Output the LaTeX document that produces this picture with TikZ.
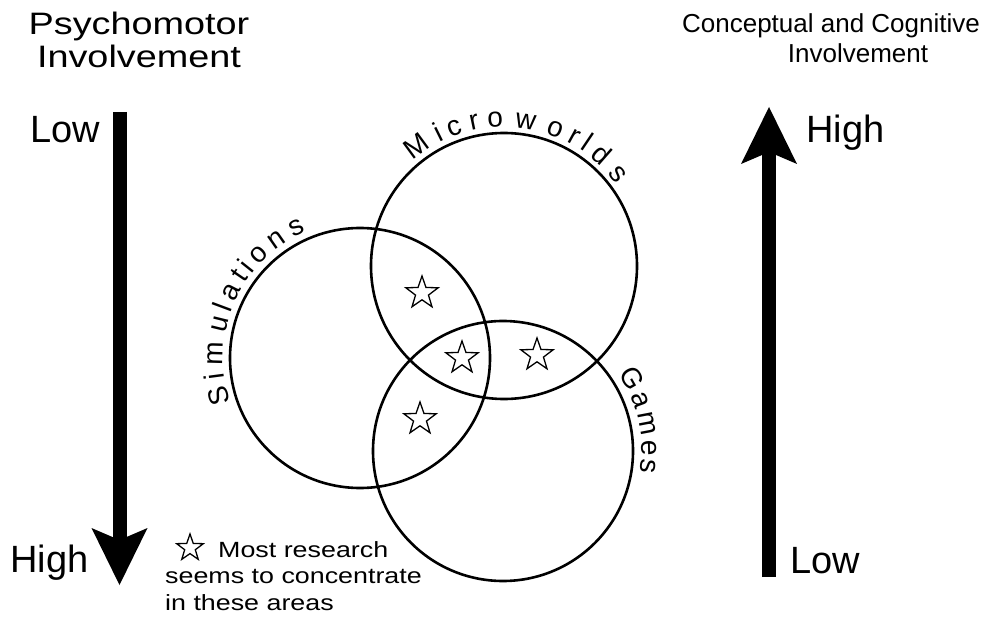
\documentclass[tikz,border=0pt]{standalone}
\usepackage{fontspec}
\setmainfont{Liberation Sans}
\newfontfamily\widesans[FakeStretch=1.22]{Liberation Sans}
\usetikzlibrary{arrows.meta,shapes.geometric,decorations.text,calc}
\newcommand\arcfont{\fontsize{28}{30}\selectfont}

\begin{document}
\begin{tikzpicture}[
    x=1pt, y=1pt,
    ring/.style={circle, draw, line width=2.6pt, inner sep=0pt},
    hotspot/.style={
        star, star points=5, star point ratio=2.5, draw, line width=1.3pt,
        inner sep=0pt, minimum size=34pt
    },
    level/.style={font=\fontsize{38}{40}\selectfont, inner sep=0pt},
    heading/.style={font=\widesans\fontsize{31}{33}\selectfont, inner sep=0pt},
    cogheading/.style={font=\fontsize{26}{30}\selectfont, inner sep=0pt},
    note/.style={font=\widesans\fontsize{22}{26}\selectfont, inner sep=0pt},
    axis arrow/.style={
        line width=14pt,
        -{Stealth[length=57pt, width=56pt, inset=12pt, line width=0pt]}
    },
    arcname/.style={
        decorate, decoration={text effects along path, text={#1},
        text effects/.cd, text along path, fit text to path,
        characters={font=\arcfont}}
    }
]
\useasboundingbox (0,0) rectangle (982,633);

% the three overlapping areas
\node[ring, minimum size=266pt] (mw)  at (504,367) {};
\node[ring, minimum size=260pt] (sim) at (360,275) {};
\node[ring, minimum size=260pt] (gm)  at (503,182) {};

\path[arcname=Microworlds] ($(mw.center)+(131:139)$) arc[start angle=131, end angle=36, radius=139];
\path[arcname=Simulations] ($(sim.center)+(199:137)$) arc[start angle=199, end angle=113, radius=137];
\path[arcname=Games] ($(gm.center)+(34:139)$) arc[start angle=34, end angle=-9, radius=139];

% research stars
\node[hotspot] (s1) at (422,340) {};
\node[hotspot] (s2) at (462,275) {};
\node[hotspot] (s3) at (537,278) {};
\node[hotspot] (s4) at (420,214) {};

% left scale
\node[heading, anchor=base] (pm1) at (139,598) {Psychomotor};
\node[heading, anchor=base] (pm2) at (139,565) {Involvement};
\coordinate (pmtop) at (119.5,521);
\coordinate (pmend) at (119.5,48);
\draw[axis arrow] (pmtop) -- (pmend);
\node[level, anchor=base west] (pmlow)  at (30,490) {Low};
\node[level, anchor=base west] (pmhigh) at (10,61) {High};

% right scale
\node[cogheading, anchor=base] (cg1) at (831,600) {Conceptual and Cognitive};
\node[cogheading, anchor=base] (cg2) at (858,570) {Involvement};
\coordinate (cgbot) at (769,56);
\coordinate (cgend) at (769,526);
\draw[axis arrow] (cgbot) -- (cgend);
\node[level, anchor=base west] (cghigh) at (806,490) {High};
\node[level, anchor=base west] (cglow)  at (790,60) {Low};

% legend
\node[hotspot, minimum size=28pt] (legstar) at (190,85) {};
\node[note, anchor=base west] (leg1) at (218,76) {Most research};
\node[note, anchor=base west] (leg2) at (165,50) {seems to concentrate};
\node[note, anchor=base west] (leg3) at (165,23) {in these areas};

\end{tikzpicture}
\end{document}
